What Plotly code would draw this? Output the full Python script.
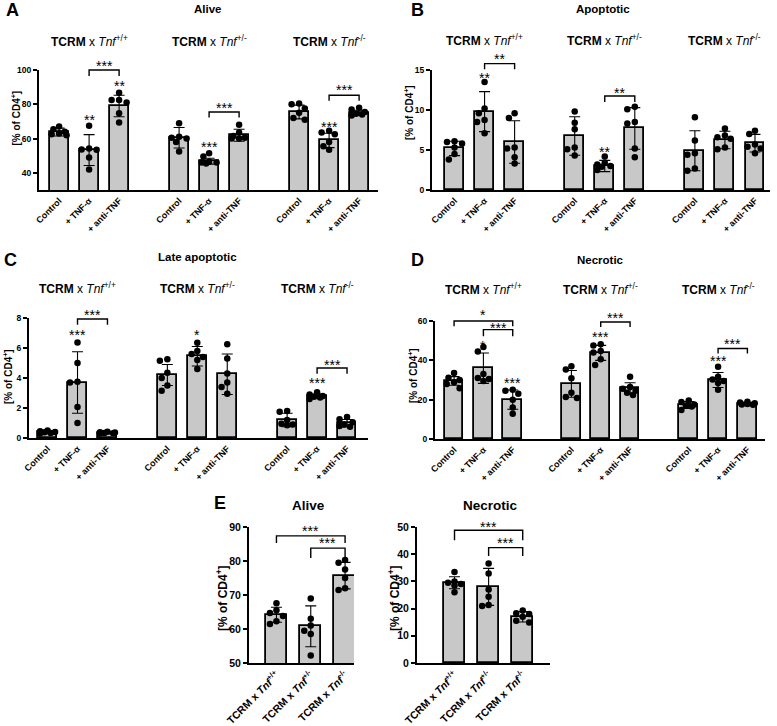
import plotly.graph_objects as go
import numpy as np

W, H = 777, 726
FONT = "Liberation Sans, Arial, Helvetica, sans-serif"
BAR_FILL = "#c8c8c8"

# ------------------------------------------------------------------ data
conditions = ["Control", "+ TNF-α", "+ anti-TNF"]
genotypes = ["+/+", "+/-", "-/-"]
x_slots = [0, 1, 2, 4, 5, 6, 8, 9, 10]

# A  Alive
alive_means = [63.8, 53.3, 79.0, 60.5, 46.8, 61.9, 75.5, 58.9, 75.0]
alive_sds = [2.3, 9.0, 6.3, 6.0, 1.7, 3.5, 4.0, 4.2, 1.5]
alive_points = [
    [67.0, 65.5, 64.0, 63.0, 62.5, 62.0],
    [67.5, 54.2, 53.6, 53.5, 49.0, 42.0],
    [86.8, 82.5, 82.5, 81.1, 74.7, 69.4],
    [69.0, 61.0, 60.5, 60.0, 58.0, 52.5],
    [51.5, 49.5, 46.5, 46.0, 45.5, 46.0],
    [68.0, 63.5, 61.5, 60.5, 60.0, 60.0],
    [80.5, 80.0, 77.5, 75.0, 72.0, 71.0],
    [64.5, 63.5, 62.5, 58.0, 55.5, 53.5],
    [78.0, 77.0, 75.5, 74.5, 74.0, 73.5],
]
alive_stars = [(1, "**", 72.6), (2, "**", 92.4), (5, "***", 57.0), (9, "***", 68.7)]
alive_brackets = [(1, 2, 100.0, 96.5, "***", 104.1), (5, 6, 75.5, 72.3, "***", 79.5),
                  (9, 10, 85.3, 82.0, "***", 89.9)]

# B  Apoptotic
apop_means = [5.2, 9.8, 6.0, 6.75, 3.0, 7.7, 4.9, 6.25, 5.85]
apop_sds = [0.9, 2.5, 2.65, 2.4, 0.7, 2.6, 2.5, 1.1, 1.1]
apop_points = [
    [6.1, 6.0, 5.8, 5.3, 4.5, 3.8],
    [13.5, 10.2, 9.6, 8.75, 8.5, 7.1],
    [9.6, 9.0, 5.3, 5.2, 4.1, 3.3],
    [9.8, 8.4, 7.6, 5.3, 5.1, 4.3],
    [4.2, 3.4, 3.2, 3.0, 2.9, 2.5],
    [10.4, 10.1, 8.5, 8.3, 5.2, 4.1],
    [9.1, 6.2, 4.6, 4.4, 2.7, 2.4],
    [7.7, 6.8, 6.6, 6.4, 5.3, 5.1],
    [7.4, 7.0, 5.7, 5.4, 5.2, 4.6],
]
apop_stars = [(1, "**", 14.4), (5, "**", 5.1)]
apop_brackets = [(1, 2, 15.8, 15.1, "**", 16.7), (5, 6, 11.75, 11.0, "**", 12.5)]

# C  Late apoptotic
late_means = [0.4, 3.7, 0.35, 4.2, 5.45, 4.25, 1.2, 2.78, 0.98]
late_sds = [0.1, 2.05, 0.06, 0.7, 0.65, 1.35, 0.45, 0.15, 0.25]
late_points = [
    [0.5, 0.45, 0.4, 0.38, 0.33, 0.3],
    [6.37, 5.0, 3.75, 3.7, 2.07, 1.0],
    [0.42, 0.38, 0.36, 0.34, 0.32, 0.3],
    [5.25, 5.15, 4.35, 4.0, 3.5, 3.15],
    [6.35, 5.8, 5.6, 5.4, 5.2, 4.6],
    [6.25, 5.3, 4.3, 3.7, 3.4, 2.95],
    [1.8, 1.75, 1.2, 0.95, 0.9, 0.85],
    [3.05, 2.9, 2.8, 2.75, 2.7, 2.6],
    [1.4, 1.25, 1.05, 0.9, 0.8, 0.75],
]
late_stars = [(1, "***", 7.1), (5, "*", 7.1), (9, "***", 3.9)]
late_brackets = [(1, 2, 7.93, 7.55, "***", 8.37), (9, 10, 4.67, 4.29, "***", 5.1)]

# D  Necrotic
necro_means = [29.5, 36.0, 20.0, 28.0, 43.8, 25.7, 17.3, 30.0, 18.0]
necro_sds = [2.2, 7.7, 4.9, 6.8, 3.8, 2.9, 1.8, 3.8, 0.6]
necro_points = [
    [33.5, 31.2, 30.0, 28.8, 28.0, 25.8],
    [46.8, 44.5, 33.0, 31.0, 30.5, 29.5],
    [25.0, 24.5, 23.0, 20.0, 16.0, 12.8],
    [37.0, 35.3, 30.9, 23.5, 21.3, 20.8],
    [48.2, 47.5, 44.8, 44.0, 40.5, 37.6],
    [31.6, 26.5, 25.5, 24.5, 23.5, 22.4],
    [19.6, 18.8, 17.5, 17.0, 16.5, 14.8],
    [36.7, 31.7, 30.2, 29.5, 28.5, 25.0],
    [18.9, 18.5, 18.2, 17.8, 17.6, 17.4],
]
necro_stars = [(1, "*", 48.9), (2, "***", 30.0), (5, "***", 53.6), (9, "***", 41.0)]
necro_brackets = [(0, 2, 60.0, 57.3, "*", 64.5), (1, 2, 55.6, 52.3, "***", 57.8),
                  (5, 6, 59.5, 57.0, "***", 63.2), (9, 10, 46.0, 43.5, "***", 49.9)]

# E  genotype comparison
e_alive_means = [64.2, 60.8, 75.7]
e_alive_sds = [2.2, 6.0, 3.9]
e_alive_points = [[67.6, 65.5, 64.7, 63.8, 62.3, 61.5],
                  [69.0, 63.0, 61.0, 59.5, 58.5, 52.2],
                  [80.3, 79.5, 77.5, 75.0, 72.0, 71.5]]
e_alive_brackets = [(0, 2, 87.4, 85.3, "***", 89.7), (1, 2, 83.8, 80.9, "***", 86.1)]
e_necro_means = [29.5, 28.0, 17.0]
e_necro_sds = [2.2, 6.8, 1.9]
e_necro_points = [[33.5, 30.0, 29.5, 29.0, 28.5, 26.0],
                  [36.6, 32.9, 27.0, 24.4, 21.3, 21.0],
                  [19.3, 18.3, 18.0, 17.0, 15.5, 14.9]]
e_necro_brackets = [(0, 2, 48.8, 45.1, "***", 51.2), (1, 2, 42.4, 39.3, "***", 45.1)]

# ------------------------------------------------------------------ helpers
def fx(px):
    return px / W


def fy(py):
    return 1 - py / H


def geno_label(g, bold_x=False):
    if bold_x:
        return "<b>TCRM x</b> <i>Tnf</i><sup>" + g + "</sup>"
    return "<b>TCRM</b> x <i>Tnf</i><sup>" + g + "</sup>"


def jitter(values, yppu, xppu, dot=6.2):
    cands = [0.0, -0.19, 0.19, -0.1, 0.1, -0.25, 0.25]
    order = sorted(range(len(values)), key=lambda i: -values[i])
    placed, res = [], [0.0] * len(values)
    for i in order:
        best, best_ov = 0.0, 1e9
        for c in cands:
            ov = 0.0
            for cx, cy in placed:
                d = np.hypot((c - cx) * xppu, (values[i] - cy) * yppu)
                if d < dot:
                    ov += dot - d
            if ov < best_ov - 1e-9:
                best_ov, best = ov, c
            if ov == 0:
                break
        res[i] = best
        placed.append((best, values[i]))
    return res


fig = go.Figure()
annotations = []
shapes = []
layout_axes = {}
STAR_SIZE = 14


def add_panel(n, box, xrange, yrange, yticks, xvals, xtext, means, sds, pts,
              bar_w, ytick_size, xtick_size, stars, brackets):
    x0, x1, y0, y1 = box
    xa = "x" if n == 1 else f"x{n}"
    ya = "y" if n == 1 else f"y{n}"
    xppu = (x1 - x0) / (xrange[1] - xrange[0])
    yppu = (y1 - y0) / (yrange[1] - yrange[0])

    def ypap(v):
        return fy(y1 - (v - yrange[0]) * yppu)

    fig.add_trace(go.Bar(
        x=xvals, y=means, width=bar_w, xaxis=xa, yaxis=ya, showlegend=False,
        hoverinfo="skip",
        marker=dict(color=BAR_FILL, line=dict(color="black", width=1.8)),
        error_y=dict(type="data", array=sds, color="black", thickness=1.1, width=5.5)))
    px_, py_ = [], []
    for xv, vals in zip(xvals, pts):
        offs = jitter(vals, yppu, xppu)
        px_ += [xv + o for o in offs]
        py_ += list(vals)
    fig.add_trace(go.Scatter(x=px_, y=py_, mode="markers", xaxis=xa, yaxis=ya,
                             showlegend=False, cliponaxis=False, hoverinfo="skip",
                             marker=dict(color="black", size=6.5, line=dict(width=0))))
    key = "" if n == 1 else str(n)
    layout_axes["xaxis" + key] = dict(
        domain=[fx(x0), fx(x1)], range=xrange, anchor=ya, showline=True,
        linecolor="black", linewidth=2, ticks="", tickvals=xvals, ticktext=xtext,
        tickangle=-45, showgrid=False, zeroline=False, automargin=False, fixedrange=True,
        tickfont=dict(family=FONT, size=xtick_size, color="black", weight="bold"))
    layout_axes["yaxis" + key] = dict(
        domain=[fy(y1), fy(y0)], range=yrange, anchor=xa, showline=True,
        linecolor="black", linewidth=2, ticks="outside", ticklen=4, tickwidth=1.5,
        tickcolor="black", tickvals=yticks, showgrid=False, zeroline=False,
        automargin=False, fixedrange=True,
        tickfont=dict(family=FONT, size=ytick_size, color="black", weight="bold"))

    def star(x, v, txt):
        annotations.append(dict(x=x, y=ypap(v), xref=xa, yref="paper", text=txt,
                                showarrow=False, yanchor="middle", xanchor="center",
                                yshift=-3,
                                font=dict(family=FONT, size=STAR_SIZE, color="black")))

    for idx, txt, yv in stars:
        star(idx, yv, txt)
    for a, b, yl, yleg, txt, yt in brackets:
        pl, pg = ypap(yl), ypap(yleg)
        shapes.append(dict(type="path", xref=xa, yref="paper",
                           path=f"M {a},{pg} L {a},{pl} L {b},{pl} L {b},{pg}",
                           line=dict(color="black", width=1.4)))
        star((a + b) / 2, yt, txt)
    return xa, ya


cond_text = ["<b>" + c + "</b>" for c in conditions] * 3

panels = [
    (1, (39, 378, 70, 190), [-0.67, 10.63], [30, 100], [40, 60, 80, 100],
     alive_means, alive_sds, alive_points, alive_stars, alive_brackets,
     ("A", 12, 10), ("Alive", 208, 9), 40.7, (15.5, 118)),
    (2, (432, 770, 70, 190), [-0.75, 10.5], [0, 15], [0, 5, 10, 15],
     apop_means, apop_sds, apop_points, apop_stars, apop_brackets,
     ("B", 418, 10), ("Apoptotic", 603, 9), 40.5, (409, 113)),
    (3, (29, 368, 318, 438), [-0.62, 10.7], [0, 8], [0, 2, 4, 6, 8],
     late_means, late_sds, late_points, late_stars, late_brackets,
     ("C", 10, 260), ("Late apoptotic", 197, 257.5), 287.5, (8, 377)),
    (4, (435, 765, 321, 439), [-0.65, 10.6], [0, 60], [0, 20, 40, 60],
     necro_means, necro_sds, necro_points, necro_stars, necro_brackets,
     ("D", 418, 260), ("Necrotic", 600, 260), 289.5, (413, 376)),
]

for (n, box, xr, yr, yt, means, sds, pts, stars, brackets, letter, title, suby, ylab) in panels:
    xa, ya = add_panel(n, box, xr, yr, yt, x_slots, cond_text, means, sds, pts,
                       0.63, 8.5, 9, stars, brackets)
    annotations.append(dict(x=fx(letter[1]), y=fy(letter[2]), xref="paper", yref="paper",
                            text="<b>" + letter[0] + "</b>", showarrow=False,
                            xanchor="center", yanchor="middle",
                            font=dict(family=FONT, size=18, color="black")))
    annotations.append(dict(x=fx(title[1]), y=fy(title[2]), xref="paper", yref="paper",
                            text="<b>" + title[0] + "</b>", showarrow=False,
                            xanchor="center", yanchor="middle",
                            font=dict(family=FONT, size=11.5, color="black")))
    for gi, g in enumerate(genotypes):
        annotations.append(dict(x=x_slots[gi * 3 + 1], y=fy(suby), xref=xa, yref="paper",
                                text=geno_label(g), showarrow=False,
                                xanchor="center", yanchor="middle",
                                font=dict(family=FONT, size=12, color="black")))
    annotations.append(dict(x=fx(ylab[0]), y=fy(ylab[1]), xref="paper", yref="paper",
                            text="<b>[% of CD4<sup>+</sup>]</b>", showarrow=False,
                            textangle=-90, xanchor="center", yanchor="middle",
                            font=dict(family=FONT, size=10, color="black")))

e_x = [0, 1, 2]
e_text = [geno_label(g, bold_x=True) for g in genotypes]
e_panels = [
    (5, (249, 354, 527, 663), [-0.8, 2.26], [50, 90], [50, 60, 70, 80, 90],
     e_alive_means, e_alive_sds, e_alive_points, e_alive_brackets, ("Alive", 308, 505), (222, 598)),
    (6, (417, 550, 527, 663), [-1.1, 2.8], [0, 50], [0, 10, 20, 30, 40, 50],
     e_necro_means, e_necro_sds, e_necro_points, e_necro_brackets, ("Necrotic", 490, 505), (394, 598)),
]
for (n, box, xr, yr, yt, means, sds, pts, brackets, title, ylab) in e_panels:
    add_panel(n, box, xr, yr, yt, e_x, e_text, means, sds, pts, 0.62, 10.5, 10.5, [], brackets)
    annotations.append(dict(x=fx(title[1]), y=fy(title[2]), xref="paper", yref="paper",
                            text="<b>" + title[0] + "</b>", showarrow=False,
                            xanchor="center", yanchor="middle",
                            font=dict(family=FONT, size=13.5, color="black")))
    annotations.append(dict(x=fx(ylab[0]), y=fy(ylab[1]), xref="paper", yref="paper",
                            text="<b>[% of CD4<sup>+</sup>]</b>", showarrow=False,
                            textangle=-90, xanchor="center", yanchor="middle",
                            font=dict(family=FONT, size=12, color="black")))

annotations.append(dict(x=fx(220), y=fy(503), xref="paper", yref="paper",
                        text="<b>E</b>", showarrow=False, xanchor="center", yanchor="middle",
                        font=dict(family=FONT, size=18, color="black")))

fig.update_layout(
    template="none",
    width=W, height=H, margin=dict(l=0, r=0, t=0, b=0, pad=0, autoexpand=False),
    paper_bgcolor="white", plot_bgcolor="white", showlegend=False,
    font=dict(family=FONT, color="black"), hovermode=False,
    annotations=annotations, shapes=shapes, bargap=0,
    **layout_axes,
)

fig.write_html("out.html", config={"displayModeBar": False},
               post_script="document.body.style.margin='0px';")
